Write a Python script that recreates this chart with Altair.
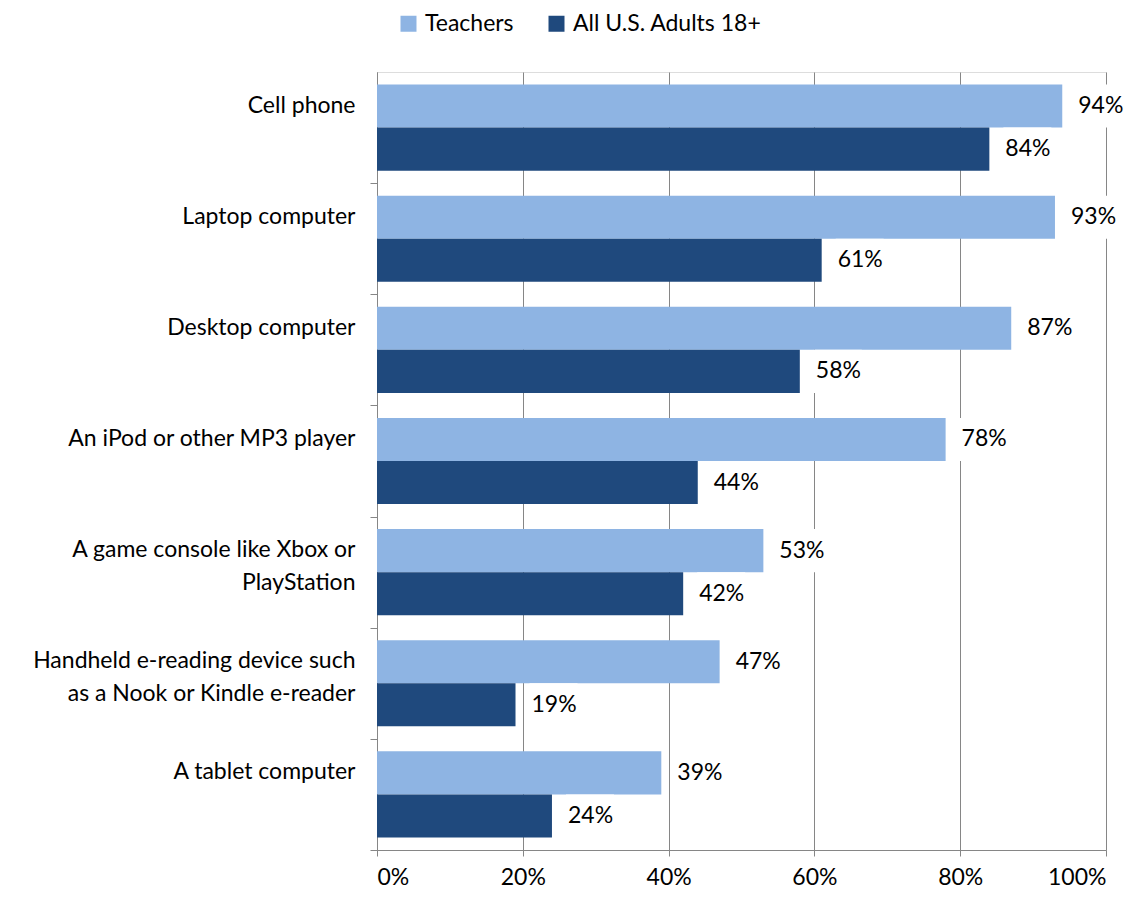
import altair as alt
import pandas as pd

categories = [
    "Cell phone",
    "Laptop computer",
    "Desktop computer",
    "An iPod or other MP3 player",
    "A game console like Xbox or\nPlayStation",
    "Handheld e-reading device such\nas a Nook or Kindle e-reader",
    "A tablet computer",
]
teachers = [94, 93, 87, 78, 53, 47, 39]
adults = [84, 61, 58, 44, 42, 19, 24]
series = ["Teachers", "All U.S. Adults 18+"]
colors = ["#8EB4E3", "#1F497D"]
x_ticks = [0, 20, 40, 60, 80, 100]

rows = []
for c, t, a in zip(categories, teachers, adults):
    rows.append({"category": c, "series": series[0], "value": t, "label": f"{t}%"})
    rows.append({"category": c, "series": series[1], "value": a, "label": f"{a}%"})
df = pd.DataFrame(rows)

FONT = "Lato"
FS = 23
GRID = "#868686"

y_enc = alt.Y(
    "category:N",
    sort=categories,
    scale=alt.Scale(paddingInner=0.225, paddingOuter=0.1125),
    axis=alt.Axis(
        title=None,
        labelExpr="split(datum.label, '\\n')",
        labelFont=FONT,
        labelFontSize=FS,
        labelColor="#000000",
        labelLineHeight=33,
        labelOffset=-35,
        labelPadding=15,
        labelAlign="right",
        labelLimit=0,
        bandPosition=1,
        tickOffset=12.5,
        tickSize=7,
        tickColor=GRID,
        domainColor=GRID,
        grid=False,
    ),
)
yoff_enc = alt.YOffset("series:N", sort=series, scale=alt.Scale(domain=series, paddingInner=0, paddingOuter=0))
x_enc = alt.X(
    "value:Q",
    scale=alt.Scale(domain=[0, 100], nice=False),
    axis=alt.Axis(
        title=None,
        values=x_ticks,
        labelExpr="datum.value + '%'",
        labelFont=FONT,
        labelFontSize=FS,
        labelColor="#000000",
        labelPadding=10,
        tickSize=6,
        tickColor=GRID,
        domainColor=GRID,
        grid=True,
        gridColor=GRID,
        gridWidth=1,
    ),
)

base = alt.Chart(df)

bars = base.mark_bar().encode(
    y=y_enc,
    yOffset=yoff_enc,
    x=x_enc,
    color=alt.Color(
        "series:N",
        sort=series,
        scale=alt.Scale(domain=series, range=colors),
        legend=alt.Legend(
            title=None,
            orient="none",
            legendX=20,
            legendY=-60,
            direction="horizontal",
            symbolType="square",
            symbolSize=256,
            symbolStrokeWidth=0,
            labelFont=FONT,
            labelFontSize=FS,
            labelColor="#000000",
            labelOffset=5,
            labelLimit=0,
            columnPadding=31,
        ),
    ),
)

boxes = base.mark_rect(color="white", xOffset=14, x2Offset=62).encode(
    y=alt.Y("category:N", sort=categories),
    yOffset=alt.YOffset("series:N", sort=series),
    x=alt.X("value:Q"),
    x2=alt.X2("value"),
)

texts = base.mark_text(align="left", baseline="middle", dx=16, font=FONT, fontSize=FS, color="#000000").encode(
    y=alt.Y("category:N", sort=categories),
    yOffset=alt.YOffset("series:N", sort=series),
    x=alt.X("value:Q"),
    text="label:N",
)

chart = (
    alt.layer(bars, boxes, texts)
    .properties(
        width=729,
        height=778,
        autosize=alt.AutoSizeParams(type="none"),
        padding={"left": 369, "top": 64, "right": 26, "bottom": 39},
    )
    .configure_view(stroke=None)
    .configure(background="white")
)

chart.save("out.html", embed_options={"renderer": "svg", "actions": False})
